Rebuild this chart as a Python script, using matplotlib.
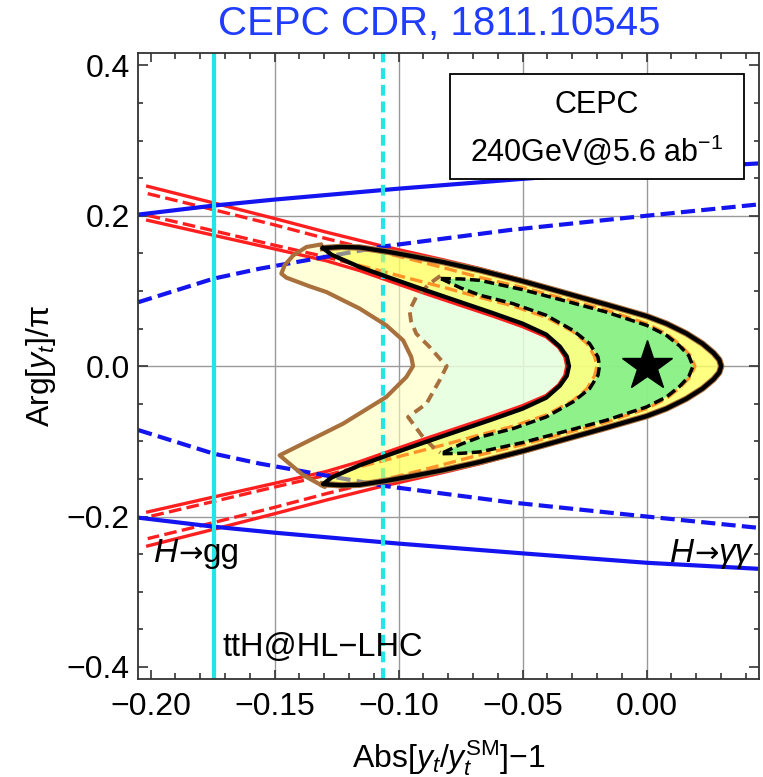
import numpy as np
import matplotlib.pyplot as plt
from matplotlib.patches import Polygon, Rectangle
from matplotlib.ticker import MultipleLocator
from matplotlib.offsetbox import TextArea, HPacker, AnnotationBbox

plt.rcParams['font.family'] = ['Liberation Sans', 'DejaVu Sans']
plt.rcParams['mathtext.fontset'] = 'custom'
plt.rcParams['mathtext.rm'] = 'Liberation Sans'
plt.rcParams['mathtext.it'] = 'Liberation Sans:italic'
plt.rcParams['mathtext.bf'] = 'Liberation Sans:bold'

# ---- data (upper halves; the plot is symmetric in Arg) ----
# CEPC 2-sigma contour (black solid), outer and inner edge, tip -> vertex
out_x = [-0.1305, -0.1230, -0.1157, -0.1050, -0.0950, -0.0821, -0.0673, -0.0500,
         -0.0337, -0.0163, 0.0000, 0.0080, 0.0160, 0.0225, 0.0270, 0.0293, 0.0301]
out_y = [0.1570, 0.1585, 0.1578, 0.1525, 0.1465, 0.1384, 0.1275, 0.1130,
         0.0980, 0.0820, 0.0665, 0.0565, 0.0435, 0.0300, 0.0175, 0.0085, 0.0]
in_x = [-0.1305, -0.1270, -0.1157, -0.1023, -0.0888, -0.0754, -0.0620, -0.0500,
        -0.0405, -0.0350, -0.0322, -0.0313]
in_y = [0.1570, 0.1480, 0.1318, 0.1160, 0.1005, 0.0855, 0.0705, 0.0565,
        0.0420, 0.0260, 0.0130, 0.0]

# CEPC 1-sigma contour (black dashed)
dout_x = [-0.0830, -0.0750, -0.0673, -0.0500, -0.0337, -0.0163, 0.0000, 0.0080,
          0.0133, 0.0170, 0.0187]
dout_y = [0.1165, 0.1160, 0.1141, 0.1017, 0.0875, 0.0720, 0.0543, 0.0410,
          0.0270, 0.0140, 0.0]
din_x = [-0.0830, -0.0750, -0.0673, -0.0539, -0.0405, -0.0297, -0.0230, -0.0196, -0.0190]
din_y = [0.1165, 0.1040, 0.0944, 0.0831, 0.0676, 0.0476, 0.0300, 0.0121, 0.0]

# brown solid contour, inner edge: top corner -> vertex -> bottom corner
brown_x = [-0.1312, -0.1372, -0.1425, -0.1460, -0.1473, -0.1453, -0.1359, -0.1291,
           -0.1157, -0.1050, -0.0982, -0.0949, -0.0942,
           -0.0969, -0.1050, -0.1224, -0.1480, -0.1385, -0.1298]
brown_y = [0.1619, 0.1584, 0.1473, 0.1340, 0.1230, 0.1177, 0.1061, 0.0985,
           0.0765, 0.0543, 0.0343, 0.0121, 0.0,
           -0.0145, -0.0411, -0.0765, -0.1186, -0.1450, -0.1608]

# brown dashed contour, inner edge: top -> vertex -> bottom
bdash_x = [-0.0832, -0.0875, -0.0929, -0.0956, -0.0950, -0.0929, -0.0875, -0.0828, -0.0806,
           -0.0835, -0.0888, -0.0962, -0.0902, -0.0861, -0.0832]
bdash_y = [0.1200, 0.1097, 0.0920, 0.0742, 0.0600, 0.0432, 0.0254, 0.0077, 0.0,
           -0.0190, -0.0500, -0.0677, -0.0943, -0.1076, -0.1150]

# H->gg band (red): outer solid, outer dashed, inner dashed, inner solid; left -> vertex
gg_us_x = [-0.2012, -0.1746, -0.1503, -0.1290, -0.1077, -0.0821, -0.0673, -0.0500,
           -0.0337, -0.0163, 0.0000, 0.0080, 0.0160, 0.0225, 0.0270, 0.0296, 0.0306]
gg_us_y = [0.2391, 0.2170, 0.1965, 0.1780, 0.1606, 0.1415, 0.1298, 0.1145,
           0.0990, 0.0830, 0.0675, 0.0575, 0.0443, 0.0306, 0.0180, 0.0088, 0.0]
gg_ud_x = [-0.2012, -0.1746, -0.1503, -0.1291, -0.1100, -0.0950, -0.0821, -0.0673,
           -0.0500, -0.0337, -0.0163, 0.0000, 0.0080, 0.0133, 0.0175, 0.0195]
gg_ud_y = [0.2294, 0.2080, 0.1880, 0.1695, 0.1540, 0.1420, 0.1310, 0.1180,
           0.1045, 0.0900, 0.0745, 0.0565, 0.0430, 0.0290, 0.0145, 0.0]
gg_ld_x = [-0.2012, -0.1746, -0.1503, -0.1291, -0.1100, -0.0950, -0.0821, -0.0673,
           -0.0539, -0.0405, -0.0297, -0.0240, -0.0210, -0.0200]
gg_ld_y = [0.2005, 0.1800, 0.1610, 0.1450, 0.1290, 0.1160, 0.1050, 0.0915,
           0.0800, 0.0650, 0.0460, 0.0300, 0.0130, 0.0]
gg_ls_x = [-0.2012, -0.1746, -0.1503, -0.1291, -0.1157, -0.1023, -0.0888, -0.0754,
           -0.0620, -0.0500, -0.0405, -0.0355, -0.0330, -0.0322]
gg_ls_y = [0.1939, 0.1740, 0.1560, 0.1400, 0.1270, 0.1115, 0.0960, 0.0812,
           0.0665, 0.0525, 0.0390, 0.0250, 0.0125, 0.0]

# H->gamma gamma (blue), upper branches
aa_x = [-0.2050, -0.1746, -0.1500, -0.1000, -0.0500, 0.0000, 0.0450]
aa_solid_y = [0.2015, 0.2135, 0.2215, 0.2360, 0.2490, 0.2615, 0.2695]
aa_dash_x = [-0.2050, -0.1746, -0.1560, -0.1065, -0.0552, 0.0000, 0.0450]
aa_dash_y = [0.0850, 0.1164, 0.1296, 0.1590, 0.1810, 0.2000, 0.2150]

# ttH @ HL-LHC (cyan)
tth_solid = -0.1746
tth_dash = -0.1065


def mirror(x, y):
    x = list(x)
    y = list(y)
    return np.array(x + x[-2::-1]), np.array(y + [-v for v in y[-2::-1]])


def arrow_label(ax, x, y, left, right, right_style, ha):
    parts = [TextArea(left, textprops=dict(fontsize=24, style='italic')),
             TextArea('\u2192', textprops=dict(fontsize=21, family='DejaVu Sans')),
             TextArea(right, textprops=dict(fontsize=24, style=right_style))]
    box = HPacker(children=parts, align='baseline', pad=0, sep=0)
    ab = AnnotationBbox(box, (x, y), xycoords='data', frameon=False, pad=0,
                        box_alignment=(0.0 if ha == 'left' else 1.0, 0.0), zorder=7)
    ax.add_artist(ab)


fig = plt.figure(figsize=(7.63, 7.77), dpi=100)
ax = fig.add_axes([0.1809, 0.1257, 0.8144, 0.8057])
ax.set_xlim(-0.2051, 0.0455)
ax.set_ylim(-0.4165, 0.4160)

ax.set_axisbelow(True)
ax.grid(True, color='#9a9a9a', lw=1.0)
ax.set_xticks([-0.20, -0.15, -0.10, -0.05, 0.0])
ax.set_yticks([-0.4, -0.2, 0.0, 0.2, 0.4])
ax.xaxis.set_minor_locator(MultipleLocator(0.01))
ax.yaxis.set_minor_locator(MultipleLocator(0.05))
ax.xaxis.get_gridlines()[0].set_visible(False)
ax.yaxis.get_gridlines()[0].set_visible(False)
ax.yaxis.get_gridlines()[-1].set_visible(False)
ax.set_xticklabels(['\u22120.20', '\u22120.15', '\u22120.10', '\u22120.05', '0.00'])
ax.set_yticklabels(['\u22120.4', '\u22120.2', '0.0', '0.2', '0.4'])
ax.tick_params(which='both', direction='in', top=True, right=True,
               labelsize=23, color='#333333', width=1.2)
ax.tick_params(axis='x', which='major', length=6.5, pad=9)
ax.tick_params(axis='x', which='minor', length=4.5)
ax.tick_params(axis='y', which='major', length=7, pad=6)
ax.tick_params(axis='y', which='minor', length=3.8)
for s in ax.spines.values():
    s.set_color('#333333')
    s.set_linewidth(1.3)

ox, oy = mirror(out_x, out_y)
ix, iy = mirror(in_x, in_y)
dox, doy = mirror(dout_x, dout_y)
dix, diy = mirror(din_x, din_y)

# pale regions (brown contours)
pale_y = Polygon(np.c_[np.r_[brown_x, ox[::-1]], np.r_[brown_y, oy[::-1]]],
                 closed=True, fc=(1, 1, 190 / 255), ec='none', alpha=0.6, zorder=1)
ax.add_patch(pale_y)
pale_g = Polygon(np.c_[np.r_[bdash_x, dox[::-1]], np.r_[bdash_y, doy[::-1]]],
                 closed=True, fc=(222 / 255, 1, 230 / 255), ec='none', alpha=0.65, zorder=1.1)
ax.add_patch(pale_g)

# constraint lines
red = '#ff1f1f'
for cx, cy, ls in [(gg_us_x, gg_us_y, '-'), (gg_ud_x, gg_ud_y, '--'),
                   (gg_ld_x, gg_ld_y, '--'), (gg_ls_x, gg_ls_y, '-')]:
    mx, my = mirror(cx, cy)
    ln, = ax.plot(mx, my, color=red, lw=2.4, ls=ls, zorder=2)
    if ls == '--':
        ln.set_dashes((3.8, 1.6))

blue = '#1414f0'
aa_s = np.array(aa_solid_y)
aa_d = np.array(aa_dash_y)
ax.plot(aa_x, aa_s, color=blue, lw=3, zorder=2, solid_capstyle='butt')
ax.plot(aa_x, -aa_s, color=blue, lw=3, zorder=2, solid_capstyle='butt')
ax.plot(aa_dash_x, aa_d, color=blue, lw=3, zorder=2, dashes=(3.4, 1.5))
ax.plot(aa_dash_x, -aa_d, color=blue, lw=3, zorder=2, dashes=(3.4, 1.5))

cyan = '#22e6e6'
ax.axvline(tth_solid, color=cyan, lw=3, zorder=2)
ax.axvline(tth_dash, color=cyan, lw=3, zorder=2, dashes=(2.6, 1.4))

# CEPC regions
yel = Polygon(np.c_[np.r_[ox, ix[::-1]], np.r_[oy, iy[::-1]]], closed=True,
              fc=(1, 1, 50 / 255), ec='none', alpha=0.52, zorder=3)
ax.add_patch(yel)
grn = Polygon(np.c_[np.r_[dox, dix[::-1]], np.r_[doy, diy[::-1]]], closed=True,
              fc=(70 / 255, 232 / 255, 140 / 255), ec='none', alpha=0.58, zorder=3.2)
ax.add_patch(grn)

brown = '#a8703c'
ax.plot(brown_x, brown_y, color=brown, lw=3.0, zorder=3.5,
        solid_joinstyle='round', solid_capstyle='round')
ax.plot(ox, oy, color=brown, lw=4.6, zorder=3.5, solid_joinstyle='round')
ln, = ax.plot(bdash_x, bdash_y, color=brown, lw=2.8, zorder=3.5)
ln.set_dashes((2.6, 1.6))

ax.plot(np.r_[ox, ix[::-1]], np.r_[oy, iy[::-1]], color='black', lw=3.1,
        zorder=4, solid_joinstyle='round')
ln, = ax.plot(np.r_[dox, dix[::-1]], np.r_[doy, diy[::-1]], color='black', lw=2.5, zorder=4)
ln.set_dashes((2.9, 1.3))

ax.plot([0.0], [0.0], marker='*', ms=38, color='black', zorder=5, ls='none')

# legend box
ax.add_patch(Rectangle((-0.0792, 0.2493), 0.1183, 0.1387, fc='white', ec='black',
                       lw=1.3, zorder=6))
ax.text(-0.0203, 0.3468, 'CEPC', ha='center', va='center', fontsize=22, zorder=7)
ax.text(-0.0203, 0.2870, '240GeV@5.6 ab$^{\u22121}$', ha='center', va='center',
        fontsize=22, zorder=7)

arrow_label(ax, -0.1985, -0.2700, 'H', 'gg', 'normal', 'left')
arrow_label(ax, 0.0425, -0.2700, 'H', '\u03b3\u03b3', 'italic', 'right')
ax.text(-0.1710, -0.3860, 'ttH@HL\u2212LHC', ha='left', va='baseline', fontsize=23.5,
        zorder=7)

ax.set_xlabel('Abs[$y_t$/$y_t^{\\mathrm{SM}}$]\u22121', fontsize=23, labelpad=12)
ax.set_ylabel('Arg[$y_t$]/\u03c0', fontsize=23, labelpad=6)

fig.text(0.575, 0.969, 'CEPC CDR, 1811.10545', ha='center', va='center',
         fontsize=29, color='#1f3cff')

fig.savefig('out.png', dpi=100)
